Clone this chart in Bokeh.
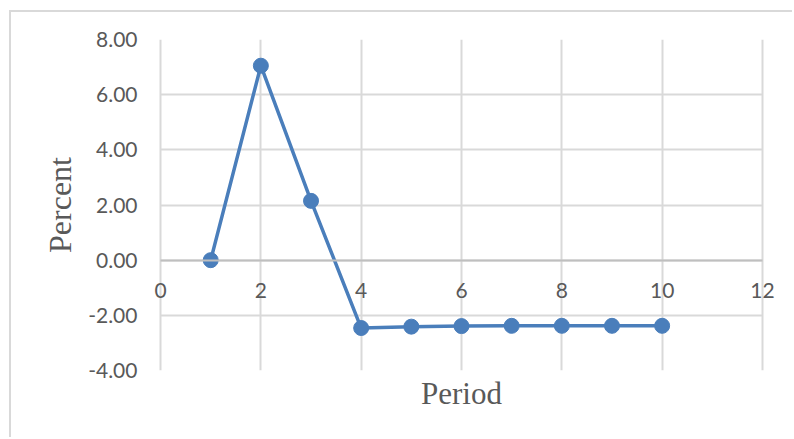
from bokeh.plotting import figure
from bokeh.models import (ColumnDataSource, NumeralTickFormatter, FixedTicker,
                          LinearAxis)
from bokeh.embed import file_html
from bokeh.resources import INLINE

# Response by period (percent)
periods = [1, 2, 3, 4, 5, 6, 7, 8, 9, 10]
percent = [0.0, 7.05, 2.15, -2.46, -2.41, -2.39, -2.38, -2.38, -2.38, -2.38]

x_ticks = [0, 2, 4, 6, 8, 10, 12]
y_ticks = [-4, -2, 0, 2, 4, 6, 8]
x_lo, x_hi = 0, 12
y_lo, y_hi = -4, 8
x_pad = 0.3  # room for the end tick labels

LINE = "#4a7ebb"
GRID = "#d9d9d9"
TEXT = "#595959"
TICK_FONT = "Lato"
TITLE_FONT = "Liberation Serif"

src = ColumnDataSource(data=dict(x=periods, y=percent))

p = figure(width=783, height=427, x_range=(x_lo - x_pad, x_hi + x_pad),
           y_range=(y_lo, y_hi),
           output_backend="svg", toolbar_location=None,
           min_border_left=134, min_border_right=17,
           min_border_top=27, min_border_bottom=69)

# light frame around the whole chart area
p.styles = {"margin-left": "9px", "margin-top": "10px",
            "border-left": f"2px solid {GRID}", "border-top": f"2px solid {GRID}"}

p.background_fill_color = "white"
p.border_fill_color = "white"
p.outline_line_color = None

# grid limited to the plotting area
for g in (p.xgrid, p.ygrid):
    g.grid_line_color = GRID
    g.grid_line_width = 2
p.xgrid.ticker = FixedTicker(ticks=x_ticks)
p.ygrid.ticker = FixedTicker(ticks=y_ticks)
p.xgrid.cross_bounds = (y_lo, y_hi)
p.ygrid.cross_bounds = (x_lo, x_hi)

p.line("x", "y", source=src, line_color=LINE, line_width=3.5)
p.scatter("x", "y", source=src, size=15, fill_color=LINE, line_color=LINE)

# horizontal axis crossing at zero
xa = p.xaxis[0]
xa.fixed_location = 0
xa.bounds = (x_lo, x_hi)
xa.ticker = FixedTicker(ticks=x_ticks)
xa.axis_line_color = "#bfbfbf"
xa.axis_line_width = 2
xa.major_tick_line_color = None
xa.minor_tick_line_color = None
xa.major_tick_out = 0
xa.major_label_standoff = 23
xa.major_label_text_font = TICK_FONT
xa.major_label_text_font_size = "21px"
xa.major_label_text_color = TEXT

# axis title underneath the plotting area
title_axis = LinearAxis(ticker=FixedTicker(ticks=[]), axis_label="Period",
                        axis_line_color=None, major_tick_line_color=None,
                        minor_tick_line_color=None, major_tick_out=0,
                        major_label_standoff=0, axis_label_standoff=5,
                        axis_label_text_font=TITLE_FONT,
                        axis_label_text_font_size="31px",
                        axis_label_text_font_style="normal",
                        axis_label_text_color=TEXT)
p.add_layout(title_axis, "below")

ya = p.yaxis[0]
ya.ticker = FixedTicker(ticks=y_ticks)
ya.formatter = NumeralTickFormatter(format="0.00")
ya.axis_line_color = None
ya.major_tick_line_color = None
ya.minor_tick_line_color = None
ya.major_tick_out = 0
ya.major_label_standoff = 8
ya.major_label_text_font = TICK_FONT
ya.major_label_text_font_size = "21px"
ya.major_label_text_color = TEXT
ya.axis_label = "Percent"
ya.axis_label_text_font = TITLE_FONT
ya.axis_label_text_font_size = "32px"
ya.axis_label_text_font_style = "normal"
ya.axis_label_text_color = TEXT
ya.axis_label_standoff = 7

open("out.html", "w").write(file_html(p, INLINE))
